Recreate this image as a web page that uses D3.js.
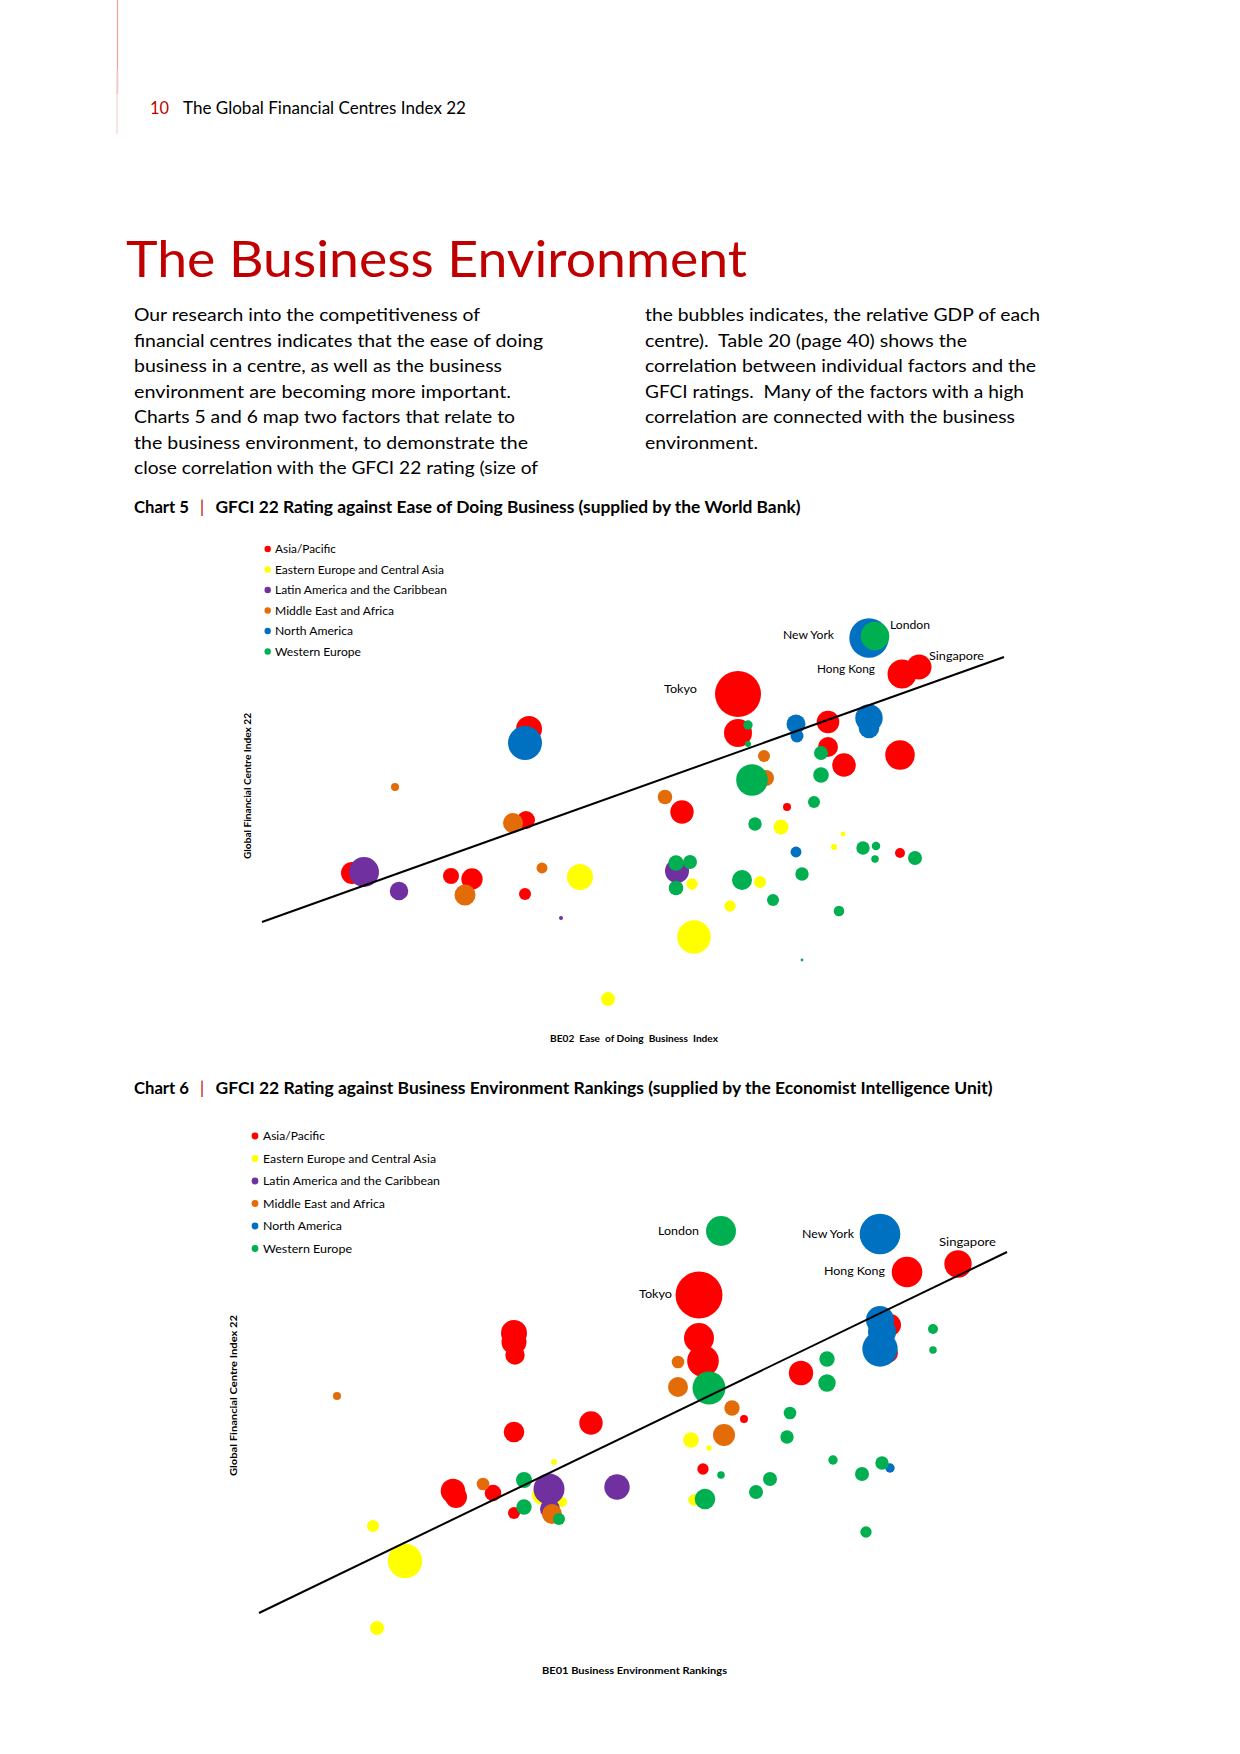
<!DOCTYPE html>
<html><head><meta charset="utf-8">
<script src="https://cdn.jsdelivr.net/npm/d3@7"></script>
<style>
html,body{margin:0;padding:0;background:#fff;}
svg text{white-space:pre;}
</style></head>
<body>
<script>
// ---------------- DATA ----------------
const regions = ["Asia/Pacific","Eastern Europe and Central Asia","Latin America and the Caribbean","Middle East and Africa","North America","Western Europe"];

// Chart 5: [Ease of Doing Business (relative), GFCI 22 (relative), GDP size]
const c5AsiaPacific = [[132,81.5,529],[173,86.5,210],[177.25,88.25,156],[154.5,74.5,128],[132,71.75,196],[154.5,68.25,100],[158.5,63.75,139],[172.5,66.25,219],[118,52,137],[144.25,53.25,16],[172.5,41.75,25],[79.75,72.75,169],[79,50,81],[35.5,36.75,121],[60.25,36,64],[65.5,35.25,114],[78.75,31.5,36]];
const c5EasternEurope = [[142.75,48.25,56],[158.25,46.5,6],[156,43.25,9],[120.5,34,32],[137.5,34.5,36],[130,28.5,32],[121,20.75,282],[92.5,35.75,169],[99.5,5.25,49]];
const c5LatinAmerica = [[38.5,37,225],[47.25,32.25,86],[87.75,25.5,4],[116.75,37.25,144]];
const c5MiddleEast = [[138.5,66,36],[139,60.5,64],[113.75,55.75,53],[46.25,58.25,16],[75.75,49.25,100],[63.75,31.25,110],[83,38,30]];
const c5NorthAmerica = [[164.75,95.5,388],[146.5,74,90],[146.75,71,42],[164.75,75.5,188],[164.75,73,106],[78.75,69.25,289],[146.5,42,30]];
const c5WesternEurope = [[166.25,96,204],[134.5,73.75,22],[134.5,69,9],[152.75,66.75,49],[135.5,60,250],[152.75,61.25,61],[151,54.5,36],[136.25,49,45],[163.25,43,45],[166.5,43.5,18],[166.25,40.25,14],[176.25,40.5,49],[116.5,39.25,59],[120,39.5,49],[116.5,33,53],[133,35,100],[148,36.5,45],[140.75,30,36],[157.25,27.25,28],[148,15,2]];
const c5Series = [c5AsiaPacific,c5EasternEurope,c5LatinAmerica,c5MiddleEast,c5NorthAmerica,c5WesternEurope];
const c5Cities = [["Tokyo",0,0],["Hong Kong",0,1],["Singapore",0,2],["New York",4,0],["London",5,0]];
const c5Trend = [[13,24.5],[198.5,90.75]];

// Chart 6: [Business Environment Rankings (relative), GFCI 22 (relative), GDP size]
const c6AsiaPacific = [[122.25,91.25,552],[174.25,97,234],[187,99,188],[122.25,80.5,225],[123.25,74.75,250],[133.5,60.25,16],[123.25,47.75,32],[147.75,71.75,149],[170,83.75,121],[169.5,76.75,100],[76,81.75,169],[76,79.5,156],[76.25,76.25,94],[76,57,106],[95.25,59.25,137],[60.75,42.25,151],[61.5,40.75,121],[70.75,41.75,69],[76,36.75,36]];
const c6EasternEurope = [[120.25,55,61],[124.75,53,7],[121,40,32],[86,49.5,9],[83,41.25,100],[88,39.5,25],[40.75,33.5,36],[48.75,24.75,299],[41.75,8,49]];
const c6LatinAmerica = [[84.75,42.75,240],[85,37.75,100],[101.75,43.25,161]];
const c6MiddleEast = [[117,74.5,40],[117,68.25,100],[130.5,63,59],[128.5,56.25,121],[31.75,66,16],[68.25,44,40],[85.5,36.5,100]];
const c6NorthAmerica = [[167.5,106.5,412],[167.5,85,196],[168,82,196],[167.5,77.75,313],[170,48,22]];
const c6WesternEurope = [[127.75,107.25,225],[124.75,68,272],[154.25,75.25,59],[154.25,69.25,76],[145,61.75,40],[144.25,55.75,45],[155.75,50,22],[163,46.5,49],[168,49.25,45],[180.75,82.75,25],[180.75,77.5,14],[140,45.25,49],[136.5,42,49],[123.75,40.25,106],[127.75,46.25,14],[164,32,32],[78.5,45,64],[78.5,38.25,59],[87.25,35.25,36]];
const c6Series = [c6AsiaPacific,c6EasternEurope,c6LatinAmerica,c6MiddleEast,c6NorthAmerica,c6WesternEurope];
const c6Cities = [["London",5,0],["New York",4,0],["Singapore",0,2],["Hong Kong",0,1],["Tokyo",0,0]];
const c6Trend = [[12.25,11.75],[199.25,102]];

// ---------------- STYLE / LAYOUT ----------------
const colors = ["#ff0000","#ffff00","#7030a0","#e36c09","#0070c0","#00b050"];
const RED = "#c00000";
const FONT = "Lato, 'Open Sans', sans-serif";

const leftLines = [
 ["Our research into the competitiveness of",346],
 ["financial centres indicates that the ease of doing",409],
 ["business in a centre, as well as the business",368],
 ["environment are becoming more important.",377],
 ["Charts 5 and 6 map two factors that relate to",381],
 ["the business environment, to demonstrate the",394],
 ["close correlation with the GFCI 22 rating (size of",404]
];
const rightLines = [
 ["the bubbles indicates, the relative GDP of each",395],
 ["centre).  Table 20 (page 40) shows the",322],
 ["correlation between individual factors and the",391],
 ["GFCI ratings.  Many of the factors with a high",379],
 ["correlation are connected with the business",370],
 ["environment.",113]
];

const svg = d3.select("body").append("svg")
  .attr("width",1240).attr("height",1754)
  .style("display","block").style("font-family",FONT);
svg.append("rect").attr("width",1240).attr("height",1754).attr("fill","#fff");

function txt(g,o){
  const t = g.append("text")
    .attr("x",o.x).attr("y",o.y)
    .attr("font-size",o.size)
    .attr("font-weight",o.weight||"normal")
    .attr("fill",o.fill||"#000")
    .attr("text-anchor",o.anchor||"start")
    .text(o.text);
  if(o.width){ t.attr("textLength",o.width).attr("lengthAdjust","spacingAndGlyphs"); }
  if(o.transform) t.attr("transform",o.transform);
  return t;
}

// margin rule
svg.append("line").attr("x1",117.5).attr("x2",117.5).attr("y1",0).attr("y2",94)
  .attr("stroke","#f0a3a3").attr("stroke-width",1.3);
svg.append("line").attr("x1",117).attr("x2",117).attr("y1",70).attr("y2",134)
  .attr("stroke","#f8d6d6").attr("stroke-width",1.3);

// header
txt(svg,{x:150,y:114,text:"10",size:17,fill:RED,width:19});
txt(svg,{x:183,y:114,text:"The Global Financial Centres Index 22",size:17,width:283});

// main title
txt(svg,{x:126,y:277,text:"The Business Environment",size:50.7,fill:RED,width:621});

// body text
leftLines.forEach((l,i)=>txt(svg,{x:134,y:321+25.5*i,text:l[0],size:17.3,width:l[1]}));
rightLines.forEach((l,i)=>txt(svg,{x:645,y:321+25.5*i,text:l[0],size:17.3,width:l[1]}));

// chart titles
function chartTitle(num,label,y,w){
  txt(svg,{x:134,y:y,text:"Chart "+num,size:16.3,weight:"bold",width:55});
  txt(svg,{x:202,y:y,text:"|",size:16.3,fill:RED,anchor:"middle"});
  txt(svg,{x:215.5,y:y,text:label,size:16.3,weight:"bold",width:w});
}
chartTitle(5,"GFCI 22 Rating against Ease of Doing Business (supplied by the World Bank)",513.3,585);
chartTitle(6,"GFCI 22 Rating against Business Environment Rankings (supplied by the Economist Intelligence Unit)",1094,777);

// ---------------- CHART BUILDER ----------------
function bubbleChart(cfg){
  const g = svg.append("g");
  const x = d3.scaleLinear().domain([0,200]).range([210,1010]);
  const y = d3.scaleLinear().domain(cfg.yDomain).range(cfg.yRange);
  const r = d3.scaleSqrt().domain([0,625]).range([0,25]);

  // legend
  const lg = g.append("g");
  regions.forEach((name,i)=>{
    const cy = cfg.legend.y0 + cfg.legend.dy*i;
    lg.append("circle").attr("cx",cfg.legend.dotX).attr("cy",cy).attr("r",cfg.legend.dotR).attr("fill",colors[i]);
    txt(lg,{x:cfg.legend.textX,y:cy+4,text:name,size:cfg.legend.size,width:cfg.legend.widths[i]});
  });

  // bubbles, series in legend order, larger first inside each series
  cfg.series.forEach((s,si)=>{
    const pts = s.map(d=>({x:d[0],y:d[1],s:d[2]})).sort((a,b)=>b.s-a.s);
    g.append("g").selectAll("circle").data(pts).join("circle")
      .attr("cx",d=>x(d.x)).attr("cy",d=>y(d.y)).attr("r",d=>r(d.s))
      .attr("fill",colors[si]);
  });

  // trend line
  g.append("line")
    .attr("x1",x(cfg.trend[0][0])).attr("y1",y(cfg.trend[0][1]))
    .attr("x2",x(cfg.trend[1][0])).attr("y2",y(cfg.trend[1][1]))
    .attr("stroke","#000").attr("stroke-width",2);

  // city labels
  cfg.cities.forEach(c=>{
    const d = cfg.series[c[1]][c[2]];
    const p = cfg.labelPos[c[0]];
    txt(g,{x:x(d[0])+p[0],y:y(d[1])+p[1]+4,text:c[0],size:cfg.labelSize,anchor:p[2],width:p[3]});
  });

  // axis titles
  txt(g,{x:cfg.xTitle.x,y:cfg.xTitle.y,text:cfg.xTitle.text,size:9.6,weight:"bold",anchor:"middle",width:cfg.xTitle.w});
  txt(g,{x:0,y:0,text:"Global Financial Centre Index 22",size:9.6,weight:"bold",anchor:"middle",width:cfg.yTitle.w,
    transform:`translate(${cfg.yTitle.x},${cfg.yTitle.y}) rotate(-90)`});
}

bubbleChart({
  series:c5Series, cities:c5Cities, trend:c5Trend,
  yDomain:[0,100], yRange:[1020,620],
  legend:{dotX:267.7,textX:275,y0:549,dy:20.5,dotR:3.2,size:11.3,widths:[61,169,172,119,78,86]},
  labelSize:11.3,
  labelPos:{"Tokyo":[-41,-5,"end",33],"New York":[-35,-3,"end",51],"London":[15,-11,"start",40],
            "Singapore":[10,-11,"start",55],"Hong Kong":[-27,-5,"end",58]},
  xTitle:{x:634,y:1042,text:"BE02  Ease  of Doing  Business  Index",w:168},
  yTitle:{x:251,y:786,w:146}
});

bubbleChart({
  series:c6Series, cities:c6Cities, trend:c6Trend,
  yDomain:[0,110], yRange:[1660,1220],
  legend:{dotX:255,textX:263,y0:1136,dy:22.5,dotR:3.4,size:12,widths:[62,173,177,122,79,89]},
  labelSize:12,
  labelPos:{"London":[-22,0,"end",41],"New York":[-26,0,"end",52],"Singapore":[-19,-22,"start",57],
            "Hong Kong":[-22,-1,"end",61],"Tokyo":[-27,-1,"end",33]},
  xTitle:{x:634.5,y:1674,text:"BE01 Business Environment Rankings",w:185},
  yTitle:{x:237,y:1395.5,w:161}
});
</script>
</body></html>
